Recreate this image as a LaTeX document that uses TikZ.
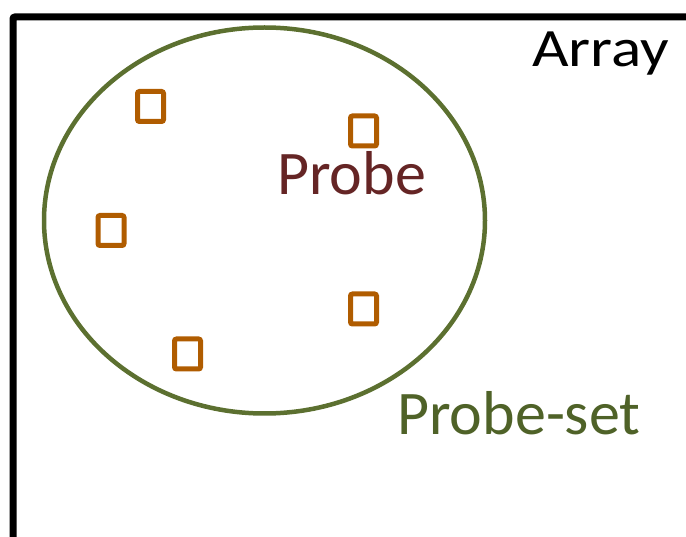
\documentclass[tikz,border=0pt]{standalone}
\usepackage{fontspec}
\setmainfont{Carlito}
\usetikzlibrary{shapes.geometric}
\definecolor{framecol}{HTML}{000000}
\definecolor{setgreen}{HTML}{5C7030}
\definecolor{settext}{HTML}{4F6228}
\definecolor{probered}{HTML}{652525}
\definecolor{spotorange}{HTML}{B05C00}
\tikzset{
  spot/.style={draw=spotorange, line width=5pt, rounded corners=2pt,
    minimum width=26pt, minimum height=30pt, inner sep=0pt},
  probeset/.style={ellipse, draw=setgreen, line width=4.5pt,
    minimum width=441pt, minimum height=386pt, inner sep=0pt},
  label/.style={inner sep=0pt, anchor=base west}
}
\begin{document}
\begin{tikzpicture}[x=1pt, y=-1pt]
  \useasboundingbox (0,0) rectangle (686,537);
  \clip (0,0) rectangle (686,537);
  % array frame, continuing past the right and bottom edges
  \draw[framecol, line width=7pt, rounded corners=2pt]
    (13,545) -- (13,17) -- (695,17);
  % probe-set outline
  \node[probeset] (set) at (264.5,220.5) {};
  % probes
  \node[spot] (p1) at (150.5,106.5) {};
  \node[spot] (p2) at (111,230.5) {};
  \node[spot] (p3) at (363.5,131) {};
  \node[spot] (p4) at (363.5,309) {};
  \node[spot] (p5) at (187.5,354) {};
  % labels
  \node[label] (array) at (532,67) {\fontsize{54}{54}\selectfont\scalebox{1.17}[1]{Array}};
  \node[label, text=probered] (probe) at (277,195) {\fontsize{62}{62}\selectfont Probe};
  \node[label, text=settext] (setlabel) at (397,435) {\fontsize{62}{62}\selectfont Probe-set};
\end{tikzpicture}
\end{document}
